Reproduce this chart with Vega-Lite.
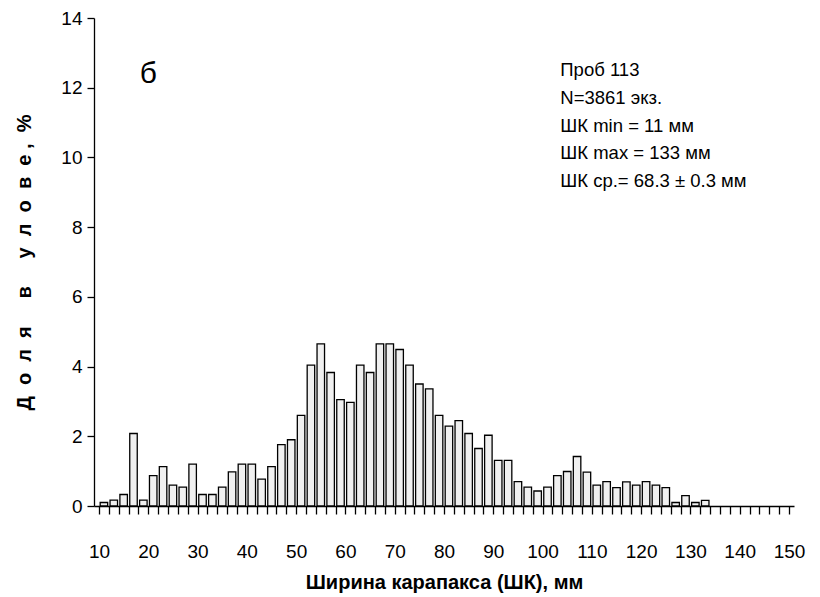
{
  "$schema": "https://vega.github.io/schema/vega-lite/v6.json",
  "width": 700,
  "height": 488,
  "autosize": {"type": "none"},
  "padding": {"left": 94, "top": 18, "right": 26, "bottom": 91},
  "background": "white",
  "config": {
    "view": {"stroke": null},
    "font": "Liberation Sans",
    "axis": {"grid": false, "domainColor": "#000", "tickColor": "#000", "labelColor": "#000", "titleColor": "#000", "labelFont": "Liberation Sans", "titleFont": "Liberation Sans", "domainWidth": 1.3, "tickWidth": 1.3}
  },
  "layer": [
    {
      "data": {"values": [
        {"shk": 11, "pct": 0.10}, {"shk": 13, "pct": 0.17}, {"shk": 15, "pct": 0.33}, {"shk": 17, "pct": 2.08}, {"shk": 19, "pct": 0.17},
        {"shk": 21, "pct": 0.87}, {"shk": 23, "pct": 1.13}, {"shk": 25, "pct": 0.60}, {"shk": 27, "pct": 0.54}, {"shk": 29, "pct": 1.20},
        {"shk": 31, "pct": 0.33}, {"shk": 33, "pct": 0.33}, {"shk": 35, "pct": 0.54}, {"shk": 37, "pct": 0.98}, {"shk": 39, "pct": 1.20},
        {"shk": 41, "pct": 1.20}, {"shk": 43, "pct": 0.77}, {"shk": 45, "pct": 1.13}, {"shk": 47, "pct": 1.76}, {"shk": 49, "pct": 1.90},
        {"shk": 51, "pct": 2.60}, {"shk": 53, "pct": 4.04}, {"shk": 55, "pct": 4.65}, {"shk": 57, "pct": 3.83}, {"shk": 59, "pct": 3.05},
        {"shk": 61, "pct": 2.97}, {"shk": 63, "pct": 4.04}, {"shk": 65, "pct": 3.83}, {"shk": 67, "pct": 4.65}, {"shk": 69, "pct": 4.65},
        {"shk": 71, "pct": 4.49}, {"shk": 73, "pct": 4.04}, {"shk": 75, "pct": 3.50}, {"shk": 77, "pct": 3.36}, {"shk": 79, "pct": 2.60},
        {"shk": 81, "pct": 2.29}, {"shk": 83, "pct": 2.45}, {"shk": 85, "pct": 2.08}, {"shk": 87, "pct": 1.65}, {"shk": 89, "pct": 2.03},
        {"shk": 91, "pct": 1.31}, {"shk": 93, "pct": 1.31}, {"shk": 95, "pct": 0.70}, {"shk": 97, "pct": 0.54}, {"shk": 99, "pct": 0.43},
        {"shk": 101, "pct": 0.54}, {"shk": 103, "pct": 0.87}, {"shk": 105, "pct": 0.99}, {"shk": 107, "pct": 1.42}, {"shk": 109, "pct": 0.97},
        {"shk": 111, "pct": 0.60}, {"shk": 113, "pct": 0.70}, {"shk": 115, "pct": 0.53}, {"shk": 117, "pct": 0.69}, {"shk": 119, "pct": 0.60},
        {"shk": 121, "pct": 0.70}, {"shk": 123, "pct": 0.60}, {"shk": 125, "pct": 0.53}, {"shk": 127, "pct": 0.10}, {"shk": 129, "pct": 0.30},
        {"shk": 131, "pct": 0.10}, {"shk": 133, "pct": 0.16}
      ]},
      "mark": {"type": "bar", "width": 7.5, "fill": "#f0f0f0", "stroke": "#000", "strokeWidth": 1.3},
      "encoding": {
        "x": {
          "field": "shk", "type": "quantitative",
          "scale": {"domain": [10, 150], "nice": false, "zero": false},
          "axis": {
            "title": "Ширина карапакса (ШК), мм",
            "titleFontSize": 20, "titleFontWeight": "bold", "titlePadding": 11,
            "values": [10,12,14,16,18,20,22,24,26,28,30,32,34,36,38,40,42,44,46,48,50,52,54,56,58,60,62,64,66,68,70,72,74,76,78,80,82,84,86,88,90,92,94,96,98,100,102,104,106,108,110,112,114,116,118,120,122,124,126,128,130,132,134,136,138,140,142,144,146,148,150],
            "tickCount": 200,
            "labelExpr": "datum.value % 10 === 0 ? datum.label : ''",
            "labelFontSize": 19, "labelPadding": 28, "tickSize": 8, "labelOverlap": false, "labelFlush": false
          }
        },
        "y": {
          "field": "pct", "type": "quantitative",
          "scale": {"domain": [0, 14], "nice": false},
          "axis": {
            "title": "Д\u00a0\u00a0о\u00a0\u00a0л\u00a0\u00a0я\u00a0\u00a0\u00a0\u00a0\u00a0в\u00a0\u00a0\u00a0\u00a0\u00a0у\u00a0\u00a0л\u00a0\u00a0о\u00a0\u00a0в\u00a0\u00a0е\u00a0,\u00a0\u00a0%",
            "titleFontSize": 20, "titleFontWeight": "bold", "titlePadding": 26,
            "values": [0, 2, 4, 6, 8, 10, 12, 14],
            "labelFontSize": 19, "labelPadding": 5, "tickSize": 7
          }
        }
      }
    },
    {
      "data": {"values": [{}]},
      "mark": {"type": "text", "align": "left", "baseline": "middle", "fontSize": 18.5, "lineHeight": 27.7, "font": "Liberation Sans", "color": "#000",
        "text": ["Проб 113", "N=3861 экз.", "ШК min = 11 мм", "ШК max = 133 мм", "ШК ср.= 68.3 ± 0.3 мм"]},
      "encoding": {
        "x": {"datum": 103.6, "type": "quantitative"},
        "y": {"datum": 12.5, "type": "quantitative"}
      }
    },
    {
      "data": {"values": [{}]},
      "mark": {"type": "text", "align": "center", "baseline": "middle", "fontSize": 30, "font": "Liberation Sans", "color": "#000", "text": "б"},
      "encoding": {
        "x": {"datum": 20.0, "type": "quantitative"},
        "y": {"datum": 12.4, "type": "quantitative"}
      }
    }
  ]
}
